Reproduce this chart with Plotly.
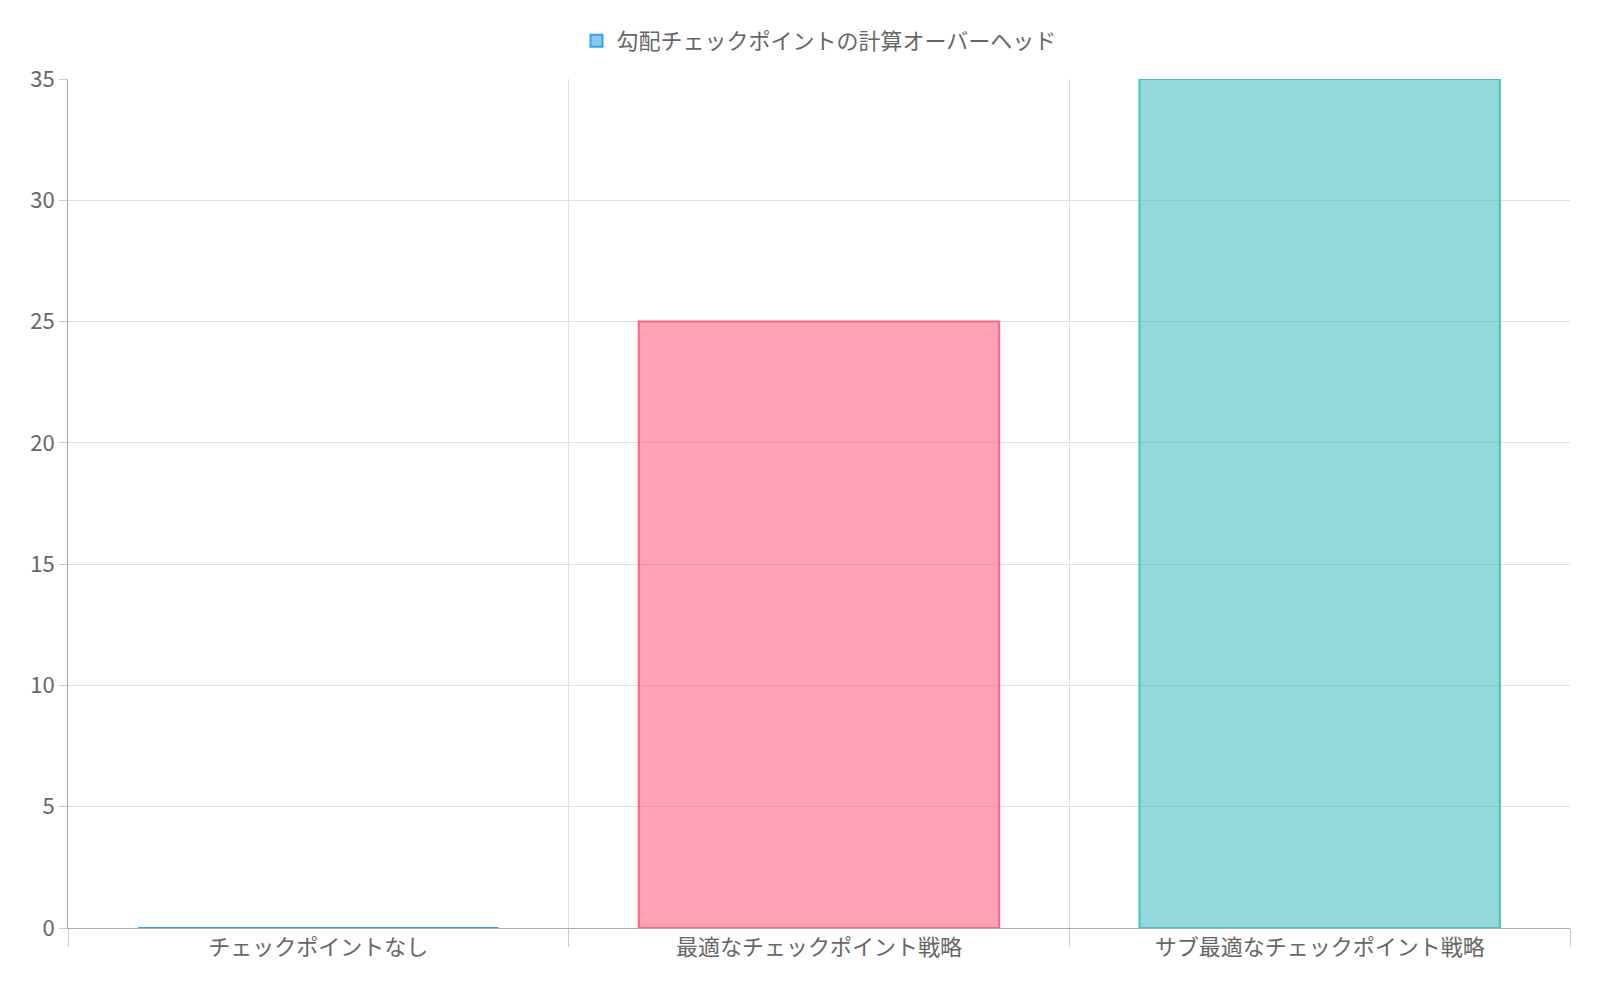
import plotly.graph_objects as go

categories = ["チェックポイントなし", "最適なチェックポイント戦略", "サブ最適なチェックポイント戦略"]
values = [0, 25, 35]
series_name = "勾配チェックポイントの計算オーバーヘッド"
fills = ["rgba(54,162,235,0.6)", "rgba(255,99,132,0.6)", "rgba(75,192,192,0.6)"]
borders = ["rgb(54,162,235)", "rgb(255,99,132)", "rgb(75,192,192)"]

xs = list(range(len(categories)))
fig = go.Figure(go.Bar(
    x=xs, y=values, name=series_name, width=0.72,
    marker=dict(color=fills, line=dict(color=borders, width=2)),
    showlegend=True,
))
font = "Noto Sans CJK JP, Liberation Sans, sans-serif"
fig.update_layout(
    width=1600, height=1000, plot_bgcolor="white", paper_bgcolor="white",
    margin=dict(l=60, r=38, t=64, b=80),
    font=dict(family=font, size=22, color="#666"),
    legend=dict(orientation="h", x=0.5, xanchor="center", y=1.02, yanchor="bottom",
                font=dict(size=22, color="#666")),
    bargap=0.28,
)
fig.update_xaxes(
    range=[-0.5, 2.5], tickvals=xs, ticktext=categories, showgrid=False,
    ticks="", showline=True, linecolor="#aaa", zeroline=False,
    minor=dict(tick0=0.5, dtick=1, showgrid=True, gridcolor="#e0e0e0",
               ticks="outside", ticklen=18, tickcolor="#ccc"),
)
fig.update_yaxes(
    range=[0, 35], dtick=5, gridcolor="#e0e0e0", showline=True, linecolor="#aaa",
    zeroline=False, ticks="outside", ticklen=8, tickcolor="#ccc",
    mirror=False,
)
fig.write_html("out.html")
